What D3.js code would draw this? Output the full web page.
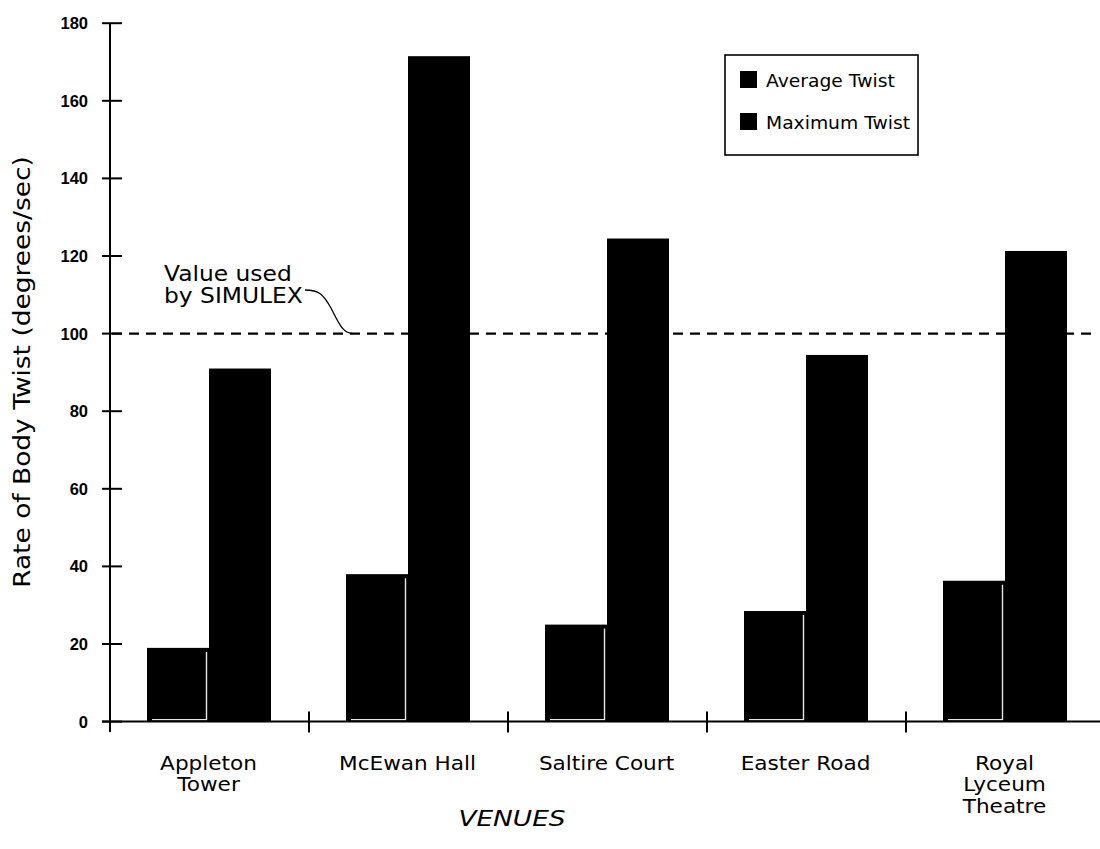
<!DOCTYPE html>
<html>
<head>
<meta charset="utf-8">
<script src="https://cdn.jsdelivr.net/npm/d3@7"></script>
<style>
  html, body { margin: 0; padding: 0; background: #fff; }
  svg { display: block; }
  .lbl { font-family: "DejaVu Sans", sans-serif; }
  .tick-num { font-family: "Liberation Sans", Arial, sans-serif; font-weight: bold; }
</style>
</head>
<body>
<script>
// Venues measured and the twist rates recorded at each
const venues = [["Appleton", "Tower"], ["McEwan Hall"], ["Saltire Court"], ["Easter Road"], ["Royal", "Lyceum", "Theatre"]];
const venueKeys = ["Appleton Tower", "McEwan Hall", "Saltire Court", "Easter Road", "Royal Lyceum Theatre"];
const series = ["Average Twist", "Maximum Twist"];
const averageTwist = [19, 38, 25, 28.5, 36.3];
const maximumTwist = [91, 171.5, 124.5, 94.5, 121.3];
const yTicks = [0, 20, 40, 60, 80, 100, 120, 140, 160, 180];
const simulexValue = 100;

const W = 1100, H = 849;
const svg = d3.select("body").append("svg").attr("width", W).attr("height", H);

const y = d3.scaleLinear().domain([0, 180]).range([721.6, 23.2]);
const x0 = d3.scaleBand().domain(venueKeys).range([110, 1105]);
const x1 = d3.scaleBand().domain(series).range([37, 161]);

const rows = venueKeys.map((k, i) => ({ key: k, values: [averageTwist[i], maximumTwist[i]] }));

// Wide geometric lettering: DejaVu stretched slightly along the baseline
function wideText(sel, x, yPos, sx, rot) {
  return sel.attr("transform", `translate(${x},${yPos})${rot ? ` rotate(${rot})` : ""} scale(${sx},1)`)
    .attr("x", 0).attr("y", 0);
}

// Bars
const groups = svg.append("g").selectAll("g").data(rows).join("g")
  .attr("transform", d => `translate(${x0(d.key)},0)`);

groups.selectAll("rect").data(d => d.values.map((v, j) => ({ s: series[j], v })))
  .join("rect")
  .attr("x", d => x1(d.s))
  .attr("y", d => y(d.v))
  .attr("width", x1.bandwidth())
  .attr("height", d => y(0) - y(d.v))
  .attr("fill", "#000");

// faint white inner edge along the average bars
groups.append("path")
  .attr("d", d => {
    const l = x1(series[0]), r = l + x1.bandwidth() - 2.5, t = y(d.values[0]) + 4, b = y(0) - 2;
    return `M${r},${t}V${b}H${l + 5}`;
  })
  .attr("fill", "none").attr("stroke", "#fff").attr("stroke-width", 1.4).attr("opacity", 0.9);

// Reference line for the SIMULEX value
svg.append("line")
  .attr("x1", 112).attr("x2", 1092)
  .attr("y1", y(simulexValue)).attr("y2", y(simulexValue))
  .attr("stroke", "#000").attr("stroke-width", 2.2).attr("stroke-dasharray", "10,7");

// Annotation
const ann = svg.append("g").attr("class", "lbl").attr("font-size", 20.5).attr("fill", "#000");
wideText(ann.append("text").text("Value used"), 164, 281, 1.14);
wideText(ann.append("text").text("by SIMULEX"), 164, 303, 1.14);
svg.append("path")
  .attr("d", `M305,290 C319,290 323,294 331,308 C339,324 343,${y(simulexValue)} 353,${y(simulexValue)}`)
  .attr("fill", "none").attr("stroke", "#000").attr("stroke-width", 1.3);

// Y axis
const yAxisG = svg.append("g");
yAxisG.append("line").attr("x1", 110).attr("x2", 110).attr("y1", y(180)).attr("y2", 732)
  .attr("stroke", "#000").attr("stroke-width", 2);
yAxisG.selectAll("line.t").data(yTicks).join("line").attr("class", "t")
  .attr("x1", 102).attr("x2", 122).attr("y1", d => y(d)).attr("y2", d => y(d))
  .attr("stroke", "#000").attr("stroke-width", 2);
yAxisG.selectAll("text").data(yTicks).join("text")
  .attr("class", "tick-num")
  .attr("x", 88).attr("y", d => y(d)).attr("dy", "0.36em")
  .attr("text-anchor", "end").attr("font-size", 16.5).text(d => d);

// X axis with ticks between venues
const xAxisG = svg.append("g");
xAxisG.append("line").attr("x1", 102).attr("x2", 1100).attr("y1", y(0)).attr("y2", y(0))
  .attr("stroke", "#000").attr("stroke-width", 2);
xAxisG.selectAll("line.t").data(venueKeys.slice(1)).join("line").attr("class", "t")
  .attr("x1", d => x0(d)).attr("x2", d => x0(d)).attr("y1", y(0) - 10).attr("y2", y(0) + 11)
  .attr("stroke", "#000").attr("stroke-width", 2);

const catG = xAxisG.selectAll("text").data(venues).join("text")
  .attr("class", "lbl").attr("font-size", 20).attr("text-anchor", "middle")
  .each(function (d, i) {
    wideText(d3.select(this), x0(venueKeys[i]) + x0.bandwidth() / 2 - 1, 770, 1.08);
  });
catG.selectAll("tspan").data(d => d).join("tspan")
  .attr("x", 0)
  .attr("dy", (d, i) => i === 0 ? 0 : 21.5)
  .text(d => d);

// Axis titles
wideText(svg.append("text").attr("class", "lbl").attr("font-size", 22).attr("font-style", "italic")
  .attr("text-anchor", "middle").text("VENUES"), 512, 826, 1.2);
wideText(svg.append("text").attr("class", "lbl").attr("font-size", 23)
  .attr("text-anchor", "middle").text("Rate of Body Twist (degrees/sec)"), 30, 372, 1.15, -90);

// Legend
const lg = svg.append("g");
lg.append("rect").attr("x", 725).attr("y", 55).attr("width", 193).attr("height", 100)
  .attr("fill", "#fff").attr("stroke", "#000").attr("stroke-width", 1.6);
series.forEach((s, i) => {
  lg.append("rect").attr("x", 740).attr("y", 71 + i * 42).attr("width", 17).attr("height", 17).attr("fill", "#000");
  wideText(lg.append("text").attr("class", "lbl").attr("font-size", 18).attr("dy", "0.36em").text(s),
    766, 81 + i * 42, 1.04);
});
</script>
</body>
</html>
